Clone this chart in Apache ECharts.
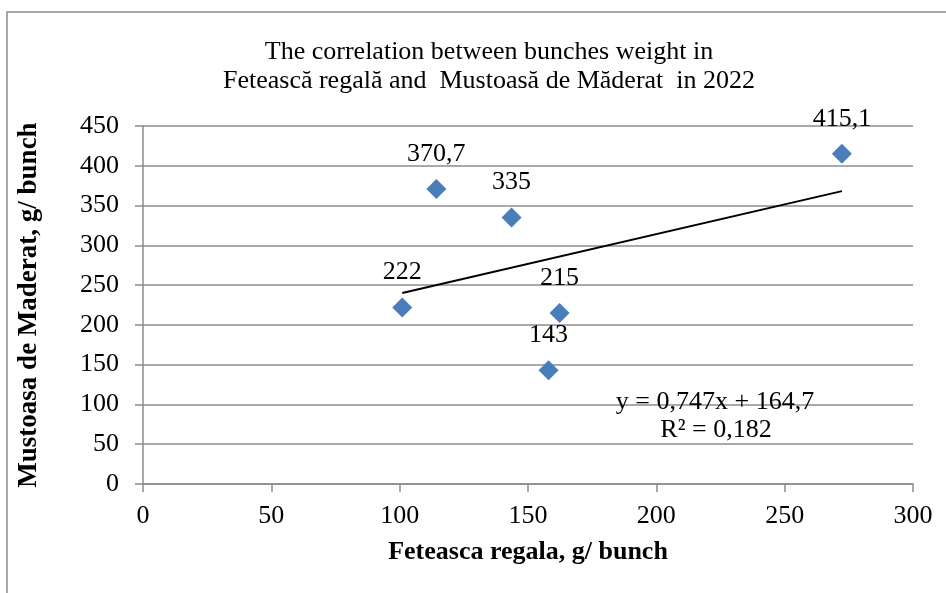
<!DOCTYPE html>
<html>
<head>
<meta charset="utf-8">
<style>html,body{margin:0;padding:0;background:#fff;}#c{width:946px;height:593px;}</style>
<script src="https://cdn.jsdelivr.net/npm/echarts@6/dist/echarts.min.js"></script>
</head>
<body>
<div id="c"></div>
<script>
// Data
const feteascaX = [101.0, 114.3, 143.6, 162.3, 158.0, 272.3];
const mustoasaY = [222, 370.7, 335, 215, 143, 415.1];
const xTicks = [0, 50, 100, 150, 200, 250, 300];
const yTicks = [0, 50, 100, 150, 200, 250, 300, 350, 400, 450];
const trendSlope = [0.747];
const trendIntercept = [164.7];
const trendR2 = [0.182];

const fmt = v => String(v).replace('.', ',');
const FONT = '"Liberation Serif", "Times New Roman", serif';

const xMinD = Math.min(...feteascaX), xMaxD = Math.max(...feteascaX);
const trendData = [
  [xMinD, trendIntercept[0] + trendSlope[0] * xMinD],
  [xMaxD, trendIntercept[0] + trendSlope[0] * xMaxD]
];

const chart = echarts.init(document.getElementById('c'), null, {renderer: 'canvas'});
chart.setOption({
  backgroundColor: '#fff',
  animation: false,
  title: {
    text: 'The correlation between bunches weight in\nFetească regală and  Mustoasă de Măderat  in 2022',
    left: 484, top: 33, textAlign: 'center',
    textStyle: {fontFamily: FONT, fontSize: 26, fontWeight: 'normal', color: '#000', lineHeight: 29}
  },
  grid: {left: 143, right: 33, top: 126, bottom: 109, containLabel: false},
  xAxis: {
    type: 'value', min: xTicks[0], max: xTicks[xTicks.length - 1], interval: 50,
    name: 'Feteasca regala, g/ bunch', nameLocation: 'middle', nameGap: 55,
    nameTextStyle: {fontFamily: FONT, fontSize: 26, fontWeight: 'bold', color: '#000'},
    axisLine: {show: true, lineStyle: {color: '#8c8c8c', width: 1.5}},
    axisTick: {show: true, length: 8, lineStyle: {color: '#8c8c8c', width: 1.5}},
    axisLabel: {fontFamily: FONT, fontSize: 26, color: '#000', margin: 19},
    splitLine: {show: false}
  },
  yAxis: {
    type: 'value', min: yTicks[0], max: yTicks[yTicks.length - 1], interval: 50,
    name: 'Mustoasa de Maderat, g/ bunch', nameLocation: 'middle', nameGap: 100, nameRotate: 90,
    nameTextStyle: {fontFamily: FONT, fontSize: 27, fontWeight: 'bold', color: '#000'},
    axisLine: {show: true, lineStyle: {color: '#8c8c8c', width: 1.5}},
    axisTick: {show: true, length: 8, lineStyle: {color: '#8c8c8c', width: 1.5}},
    axisLabel: {fontFamily: FONT, fontSize: 26, color: '#000', margin: 24},
    splitLine: {show: true, lineStyle: {color: '#8c8c8c', width: 1.5}}
  },
  series: [
    {
      type: 'line', data: trendData, symbol: 'none', silent: true,
      lineStyle: {color: '#000', width: 2}, z: 3
    },
    {
      type: 'scatter', symbol: 'diamond', symbolSize: [20, 20],
      data: feteascaX.map((x, i) => [x, mustoasaY[i]]),
      itemStyle: {color: '#4A7EBB', opacity: 1},
      label: {
        show: true, position: 'top', distance: 12,
        formatter: p => fmt(p.value[1]),
        fontFamily: FONT, fontSize: 26, color: '#000', opacity: 1
      },
      z: 4
    }
  ],
  graphic: [
    {type: 'rect', shape: {x: 7, y: 12, width: 1000, height: 700}, style: {fill: 'none', stroke: '#8c8c8c', lineWidth: 1.5}, silent: true, z: -1},
    {type: 'text', x: 715, y: 402, style: {text: 'y = ' + fmt(trendSlope[0]) + 'x + ' + fmt(trendIntercept[0]), font: '26px ' + FONT, fill: '#000', align: 'center', verticalAlign: 'middle'}, z: 10},
    {type: 'text', x: 716, y: 430, style: {text: 'R² = ' + fmt(trendR2[0]), font: '26px ' + FONT, fill: '#000', align: 'center', verticalAlign: 'middle'}, z: 10}
  ]
});
</script>
</body>
</html>
